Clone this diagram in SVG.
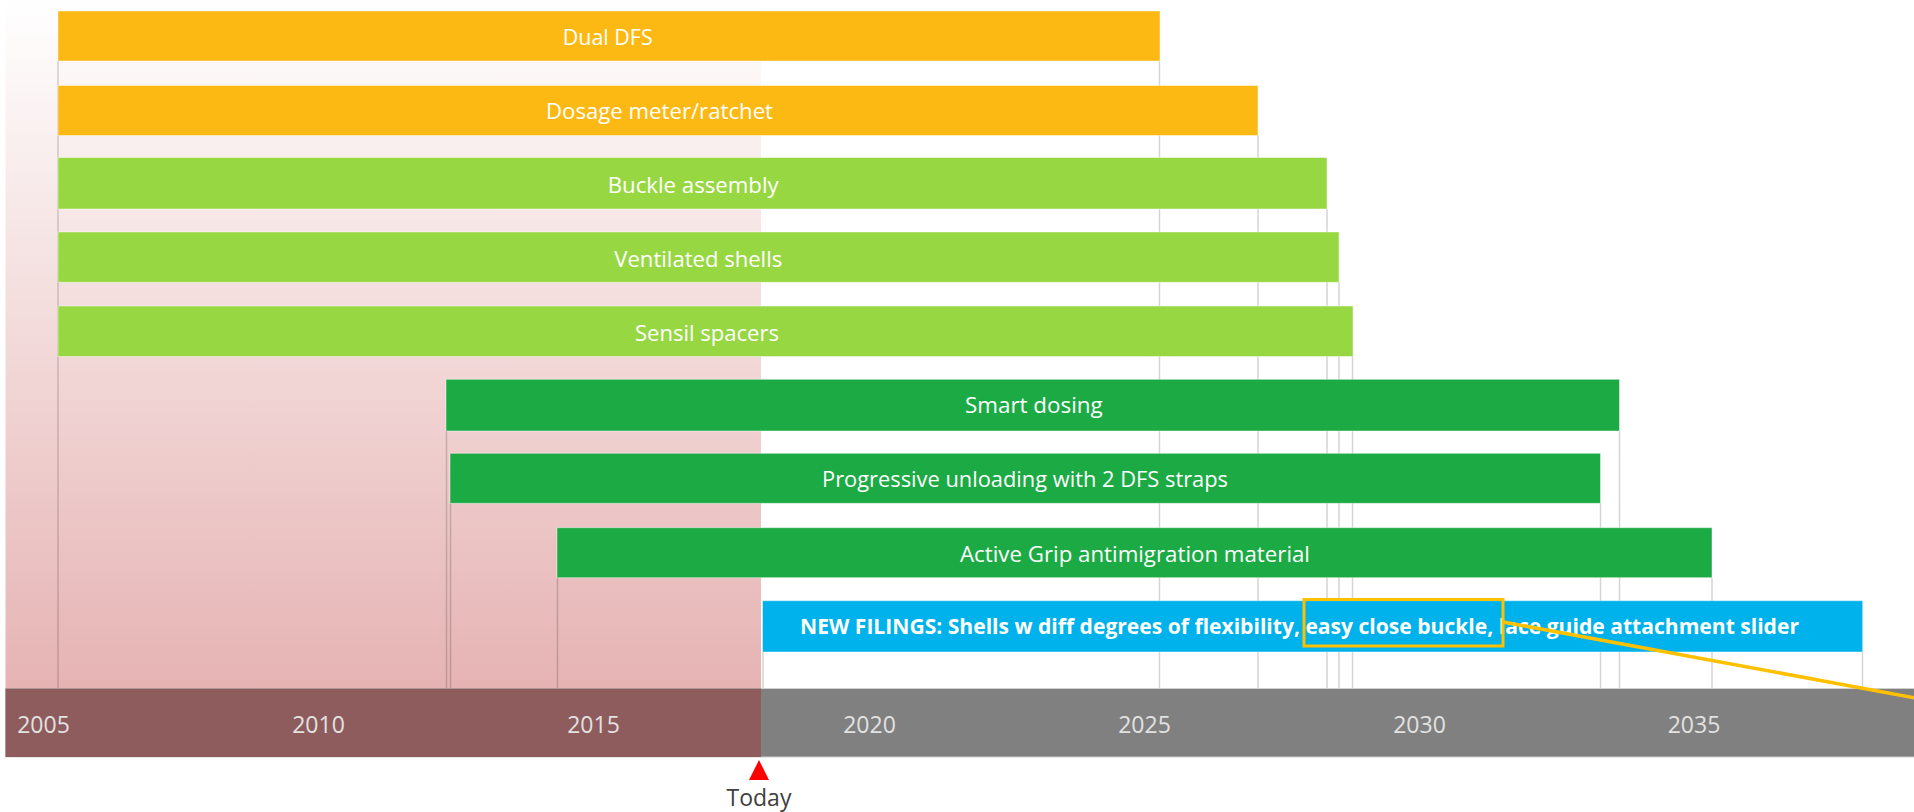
<svg xmlns="http://www.w3.org/2000/svg" width="1914" height="812" viewBox="0 0 1914 812">
  <defs>
    <linearGradient id="pinkGrad" x1="0" y1="0" x2="0" y2="1">
      <stop offset="0" stop-color="#FFFFFF"/>
      <stop offset="1" stop-color="#E6B3B3"/>
    </linearGradient>
  </defs>
  <style>
    .bar { stroke: #FFFFFF; stroke-opacity: 0.45; stroke-width: 1; }
    .orange { fill: #FDB913; }
    .lgreen { fill: #97D842; }
    .dgreen { fill: #1BAA43; }
    .blue { fill: #00B2EC; }
    .lbl { font-family: "Open Sans", "Liberation Sans", sans-serif; font-size: 22px; fill: #FFFFFF; }
    .bold { font-weight: bold; }
    .year { font-family: "Open Sans", "Liberation Sans", sans-serif; font-size: 23px; fill: #E2E2E2; text-anchor: middle; }
    .today { font-family: "Open Sans", "Liberation Sans", sans-serif; font-size: 23px; fill: #404040; text-anchor: middle; }
    .grid { stroke: #000000; stroke-opacity: 0.17; stroke-width: 1.5; fill: none; }
    .hl { stroke: #FFC000; stroke-width: 3; fill: none; }
    .hlline { stroke: #FFC000; stroke-width: 3.5; fill: none; }
  </style>

  <rect x="0" y="0" width="1914" height="812" fill="#FFFFFF"/>

  <!-- past-period background -->
  <rect id="past-area" x="5.5" y="0" width="755.5" height="688.5" fill="url(#pinkGrad)"/>

  <!-- gridlines from bar ends -->
  <g id="gridlines" class="grid">
    <line x1="58" y1="61" x2="58" y2="688"/>
    <line x1="446.5" y1="431" x2="446.5" y2="688"/>
    <line x1="450.5" y1="503" x2="450.5" y2="688"/>
    <line x1="557.5" y1="578" x2="557.5" y2="688"/>
    <line x1="763" y1="652" x2="763" y2="688"/>
    <line x1="1159.5" y1="61" x2="1159.5" y2="688"/>
    <line x1="1258" y1="135" x2="1258" y2="688"/>
    <line x1="1327" y1="209" x2="1327" y2="688"/>
    <line x1="1339" y1="282" x2="1339" y2="688"/>
    <line x1="1352.5" y1="356" x2="1352.5" y2="688"/>
    <line x1="1619.5" y1="431" x2="1619.5" y2="688"/>
    <line x1="1600.5" y1="503" x2="1600.5" y2="688"/>
    <line x1="1712" y1="578" x2="1712" y2="688"/>
    <line x1="1862.5" y1="652" x2="1862.5" y2="688"/>
  </g>

  <!-- timeline axis -->
  <g id="axis">
    <rect x="5.5" y="688.5" width="1910" height="68.5" fill="#808080" stroke="#CFCFCF" stroke-width="1"/>
    <rect x="5.5" y="688.5" width="755.5" height="68.5" fill="#8E5C5C"/>
    <text class="year" x="43.5" y="733">2005</text>
    <text class="year" x="318.5" y="733">2010</text>
    <text class="year" x="593.5" y="733">2015</text>
    <text class="year" x="869.5" y="733">2020</text>
    <text class="year" x="1144.5" y="733">2025</text>
    <text class="year" x="1419.5" y="733">2030</text>
    <text class="year" x="1694" y="733">2035</text>
  </g>

  <g id="today-marker">
    <polygon points="759,760 749,780 769,780" fill="#FF0000"/>
    <text class="today" x="759" y="806">Today</text>
  </g>

  <g id="bar-dual-dfs">
    <rect class="bar orange" x="58" y="11" width="1102" height="50"/>
    <text class="lbl" x="562.7" y="45" textLength="90" lengthAdjust="spacingAndGlyphs">Dual DFS</text>
  </g>
  <g id="bar-dosage-meter">
    <rect class="bar orange" x="58" y="85.5" width="1200" height="50"/>
    <text class="lbl" x="546" y="118.5" textLength="227" lengthAdjust="spacingAndGlyphs">Dosage meter/ratchet</text>
  </g>
  <g id="bar-buckle-assembly">
    <rect class="bar lgreen" x="58" y="157.5" width="1269" height="51.5"/>
    <text class="lbl" x="607.7" y="192.7" textLength="171" lengthAdjust="spacingAndGlyphs">Buckle assembly</text>
  </g>
  <g id="bar-ventilated-shells">
    <rect class="bar lgreen" x="58" y="232" width="1281" height="50.3"/>
    <text class="lbl" x="614.3" y="266.7" textLength="168" lengthAdjust="spacingAndGlyphs">Ventilated shells</text>
  </g>
  <g id="bar-sensil-spacers">
    <rect class="bar lgreen" x="58" y="306" width="1295" height="50.5"/>
    <text class="lbl" x="635" y="340.7" textLength="144" lengthAdjust="spacingAndGlyphs">Sensil spacers</text>
  </g>
  <g id="bar-smart-dosing">
    <rect class="bar dgreen" x="446" y="379.3" width="1173.5" height="51.7"/>
    <text class="lbl" x="965" y="413.3" textLength="137.7" lengthAdjust="spacingAndGlyphs">Smart dosing</text>
  </g>
  <g id="bar-progressive-unloading">
    <rect class="bar dgreen" x="450" y="453.3" width="1150.5" height="50"/>
    <text class="lbl" x="822" y="487.3" textLength="406" lengthAdjust="spacingAndGlyphs">Progressive unloading with 2 DFS straps</text>
  </g>
  <g id="bar-active-grip">
    <rect class="bar dgreen" x="557" y="527.7" width="1155" height="50"/>
    <text class="lbl" x="960" y="561.7" textLength="350" lengthAdjust="spacingAndGlyphs">Active Grip antimigration material</text>
  </g>
  <g id="bar-new-filings">
    <rect class="bar blue" x="762.5" y="600.7" width="1100.2" height="51.3"/>
    <text class="lbl bold" x="800" y="634" textLength="999" lengthAdjust="spacingAndGlyphs">NEW FILINGS: Shells w diff degrees of flexibility, easy close buckle, lace guide attachment slider</text>
  </g>

  <g id="highlight-box">
    <rect class="hl" x="1304" y="599.5" width="199" height="46.5"/>
  </g>

  <g id="connectors">
    <line class="hlline" x1="1503" y1="622" x2="1920" y2="698.8"/>
  </g>
</svg>
